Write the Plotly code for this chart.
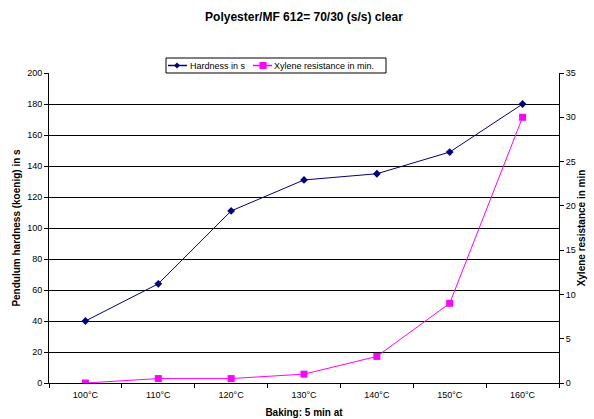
import plotly.graph_objects as go

categories = ["100°C", "110°C", "120°C", "130°C", "140°C", "150°C", "160°C"]
hardness = [40, 64, 111, 131, 135, 149, 180]
xylene = [0, 0.5, 0.5, 1, 3, 9, 30]
series_names = ["Hardness in s", "Xylene resistance in min."]
series_colors = ["#000080", "#FF00FF"]

FONT = "Liberation Sans, Arial, sans-serif"
W, H = 594, 419
ML, MR, MT, MB = 49, 35, 73, 36
PW, PH = W - ML - MR, H - MT - MB


def px(x):
    return (x - ML) / PW


def py(y):
    return (H - MB - y) / PH


fig = go.Figure()
fig.add_trace(go.Scatter(
    x=categories, y=hardness, name=series_names[0], mode="lines+markers",
    line=dict(color=series_colors[0], width=1),
    marker=dict(symbol="diamond", size=6, color=series_colors[0]),
    yaxis="y"))
fig.add_trace(go.Scatter(
    x=categories, y=xylene, name=series_names[1], mode="lines+markers",
    line=dict(color=series_colors[1], width=1),
    marker=dict(symbol="square", size=7, color=series_colors[1]),
    yaxis="y2"))

# custom compact legend (Excel style)
shapes = [
    dict(type="rect", xref="paper", yref="paper", x0=px(166), x1=px(386), y0=py(73), y1=py(58),
         line=dict(color="black", width=1), fillcolor="white", layer="above"),
    dict(type="line", xref="paper", yref="paper", x0=px(168), x1=px(187), y0=py(65.5), y1=py(65.5),
         line=dict(color=series_colors[0], width=1.5), layer="above"),
    dict(type="path", xref="paper", yref="paper",
         path=f"M {px(177)} {py(62.5)} L {px(180)} {py(65.5)} L {px(177)} {py(68.5)} L {px(174)} {py(65.5)} Z",
         line=dict(color=series_colors[0], width=0), fillcolor=series_colors[0], layer="above"),
    dict(type="line", xref="paper", yref="paper", x0=px(253), x1=px(272), y0=py(65.5), y1=py(65.5),
         line=dict(color=series_colors[1], width=1.5), layer="above"),
    dict(type="rect", xref="paper", yref="paper", x0=px(259.5), x1=px(266.5), y0=py(69), y1=py(62),
         line=dict(color=series_colors[1], width=0), fillcolor=series_colors[1], layer="above"),
]
annotations = [
    dict(text=series_names[0], xref="paper", yref="paper", x=px(188), y=py(65.5),
         xanchor="left", yanchor="middle", showarrow=False, font=dict(size=9, family=FONT)),
    dict(text=series_names[1], xref="paper", yref="paper", x=px(272), y=py(65.5),
         xanchor="left", yanchor="middle", showarrow=False, font=dict(size=9, family=FONT)),
]

fig.update_layout(
    width=W, height=H,
    margin=dict(l=ML, r=MR, t=MT, b=MB, autoexpand=False),
    paper_bgcolor="white", plot_bgcolor="white",
    font=dict(family=FONT, size=9, color="black"),
    title=dict(text="<b>Polyester/MF 612= 70/30 (s/s) clear</b>",
               x=0.5, xref="paper", y=0.96, yanchor="middle",
               font=dict(size=12, family=FONT, color="black")),
    showlegend=False,
    shapes=shapes,
    annotations=annotations,
    xaxis=dict(type="category", range=[-0.5, len(categories) - 0.5],
               showline=True, linecolor="black", linewidth=1,
               ticks="outside", tickson="boundaries", ticklen=4, tickcolor="black",
               showgrid=False, tickfont=dict(size=9), automargin=False, ticklabelstandoff=3,
               title=dict(text="<b>Baking: 5 min at</b>", font=dict(size=10), standoff=10)),
    yaxis=dict(range=[0, 200], dtick=20, showline=True, linecolor="black", linewidth=1,
               ticks="outside", ticklen=4, tickcolor="black", automargin=False,
               showgrid=True, gridcolor="black", gridwidth=1, zeroline=False,
               tickfont=dict(size=9),
               title=dict(text="<b>Pendulum hardness (koenig) in s</b>", font=dict(size=10), standoff=4)),
    yaxis2=dict(range=[0, 35], dtick=5, overlaying="y", side="right",
                showline=True, linecolor="black", linewidth=1, automargin=False,
                ticks="outside", ticklen=4, tickcolor="black",
                showgrid=False, zeroline=False, tickfont=dict(size=9),
                title=dict(text="<b>Xylene resistance in min</b>", font=dict(size=10), standoff=0)),
)

fig.write_html("out.html", config=dict(displayModeBar=False),
               post_script="document.body.style.margin='0px';")
